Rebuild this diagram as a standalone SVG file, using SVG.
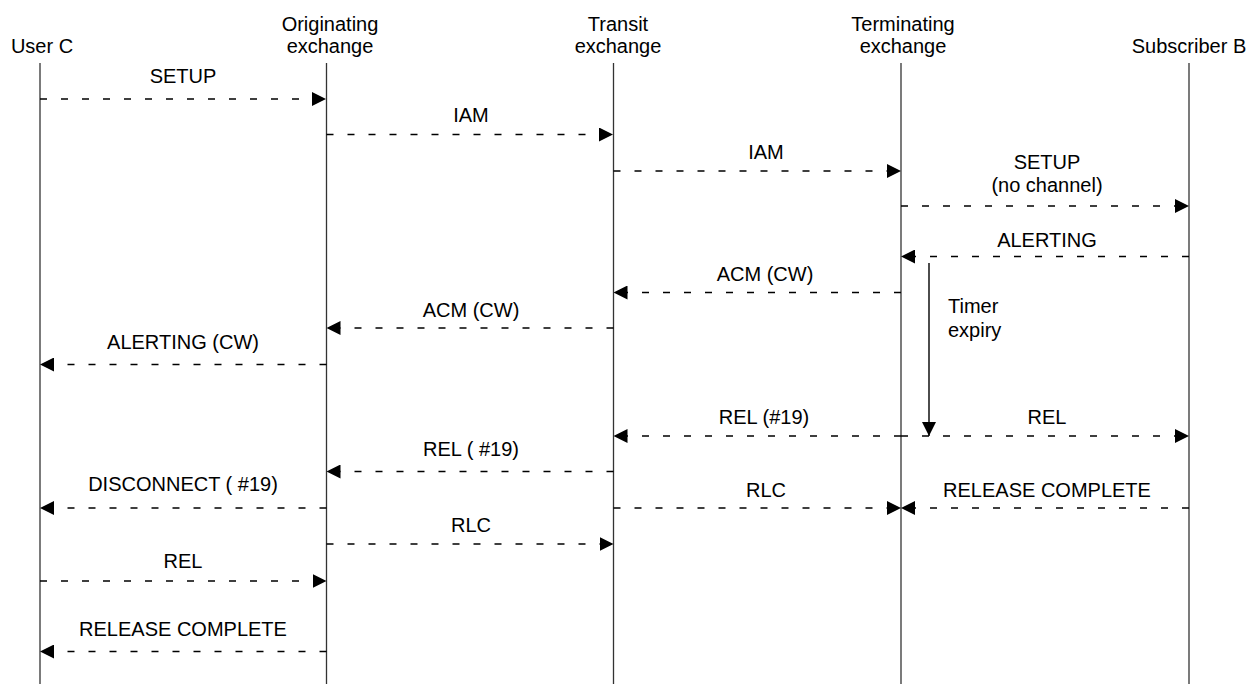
<svg xmlns="http://www.w3.org/2000/svg" width="1247" height="684" viewBox="0 0 1247 684">
<style>
text{font-family:"Liberation Sans",Arial,sans-serif;font-size:20px;fill:#000;text-anchor:middle}
.life{stroke:#333;stroke-width:1.3;fill:none}
.msg{stroke:#000;stroke-width:1.6;stroke-dasharray:7 14;fill:none}
.solid{stroke:#000;stroke-width:1.4;fill:none}
.ah{fill:#000}
</style>
<defs>
<marker id="arr" viewBox="-14 -7 14 14" refX="0" refY="0" markerWidth="14" markerHeight="14" markerUnits="userSpaceOnUse" orient="auto">
<path d="M0,0 L-14,-7 L-14,7 Z" class="ah"/>
</marker>
</defs>
<rect width="1247" height="684" fill="#fff"/>
<g id="userC">
<text x="42" y="53">User C</text>
<line class="life" x1="40" y1="63" x2="40" y2="684"/>
</g>
<g id="originating">
<text x="330" y="31">Originating</text>
<text x="330" y="53">exchange</text>
<line class="life" x1="326.5" y1="63" x2="326.5" y2="684"/>
</g>
<g id="transit">
<text x="618" y="31">Transit</text>
<text x="618" y="53">exchange</text>
<line class="life" x1="613.5" y1="63" x2="613.5" y2="684"/>
</g>
<g id="terminating">
<text x="903" y="31">Terminating</text>
<text x="903" y="53">exchange</text>
<line class="life" x1="901" y1="63" x2="901" y2="684"/>
</g>
<g id="subscriberB">
<text x="1189" y="53">Subscriber B</text>
<line class="life" x1="1189" y1="63" x2="1189" y2="684"/>
</g>
<g id="connectors">
<line class="msg" x1="40" y1="99" x2="326" y2="99" marker-end="url(#arr)"/>
<text x="183" y="83">SETUP</text>
<line class="msg" x1="326.5" y1="134.5" x2="613" y2="134.5" marker-end="url(#arr)"/>
<text x="471" y="122">IAM</text>
<line class="msg" x1="613.5" y1="171" x2="901" y2="171" marker-end="url(#arr)"/>
<text x="766" y="159">IAM</text>
<line class="msg" x1="901" y1="206" x2="1189" y2="206" marker-end="url(#arr)"/>
<text x="1047" y="169">SETUP</text>
<text x="1047" y="192">(no channel)</text>
<line class="msg" x1="1189" y1="256.5" x2="901" y2="256.5" marker-end="url(#arr)"/>
<text x="1047" y="247">ALERTING</text>
<line class="msg" x1="901" y1="292.5" x2="613.5" y2="292.5" marker-end="url(#arr)"/>
<text x="765" y="281">ACM (CW)</text>
<line class="msg" x1="613.5" y1="328" x2="326.5" y2="328" marker-end="url(#arr)"/>
<text x="471" y="317">ACM (CW)</text>
<line class="msg" x1="326.5" y1="364.5" x2="40" y2="364.5" marker-end="url(#arr)"/>
<text x="183" y="349">ALERTING (CW)</text>
<line class="solid" x1="929" y1="263" x2="929" y2="436" marker-end="url(#arr)"/>
<text x="948" y="313" style="text-anchor:start">Timer</text>
<text x="948" y="337" style="text-anchor:start">expiry</text>
<line class="msg" x1="901" y1="436" x2="613.5" y2="436" marker-end="url(#arr)"/>
<text x="764" y="424">REL (#19)</text>
<line class="msg" x1="901" y1="436" x2="1189" y2="436" marker-end="url(#arr)"/>
<text x="1047" y="424">REL</text>
<line class="msg" x1="613.5" y1="471.5" x2="326.5" y2="471.5" marker-end="url(#arr)"/>
<text x="471" y="456">REL ( #19)</text>
<line class="msg" x1="326.5" y1="508" x2="40" y2="508" marker-end="url(#arr)"/>
<text x="183" y="491">DISCONNECT ( #19)</text>
<line class="msg" x1="613.5" y1="508" x2="901" y2="508" marker-end="url(#arr)"/>
<text x="766" y="497">RLC</text>
<line class="msg" x1="1189" y1="508" x2="901" y2="508" marker-end="url(#arr)"/>
<text x="1047" y="497">RELEASE COMPLETE</text>
<line class="msg" x1="326.5" y1="544" x2="613.5" y2="544" marker-end="url(#arr)"/>
<text x="471" y="532">RLC</text>
<line class="msg" x1="40" y1="581" x2="326.5" y2="581" marker-end="url(#arr)"/>
<text x="183" y="568">REL</text>
<line class="msg" x1="326.5" y1="651.5" x2="40" y2="651.5" marker-end="url(#arr)"/>
<text x="183" y="636">RELEASE COMPLETE</text>
</g>
</svg>
